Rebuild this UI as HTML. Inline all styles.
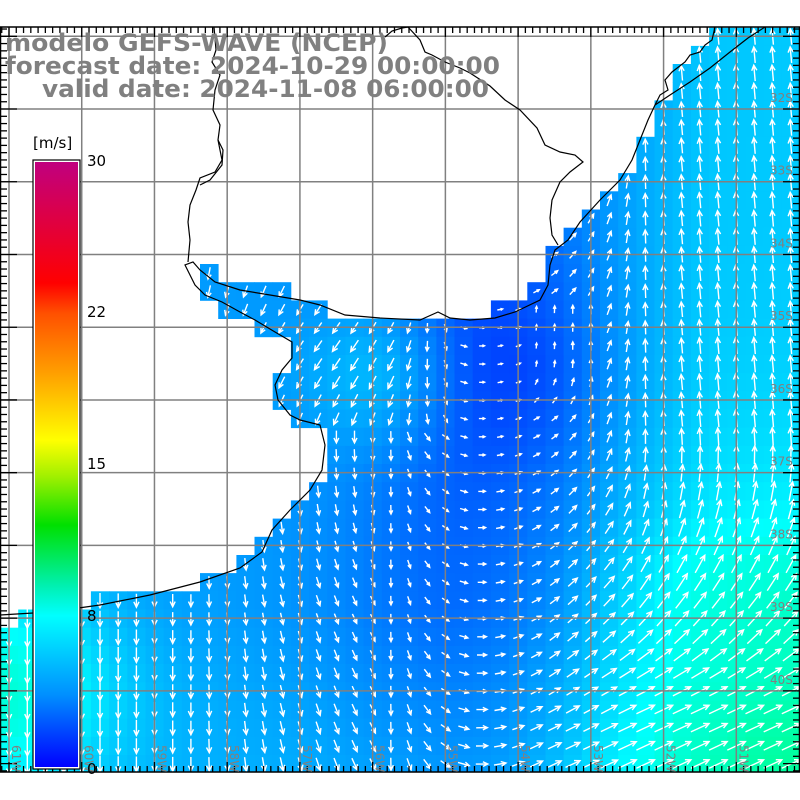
<!DOCTYPE html>
<html><head><meta charset="utf-8"><style>
html,body{margin:0;padding:0;background:#fff;width:800px;height:800px;overflow:hidden}
svg{display:block}
</style></head><body>
<svg id="s" width="800" height="800" xmlns="http://www.w3.org/2000/svg">
<defs>
<linearGradient id="cb" x1="0" y1="0" x2="0" y2="1">
<stop offset="0" stop-color="#c0007f"/>
<stop offset="0.1" stop-color="#e00040"/>
<stop offset="0.2" stop-color="#ff0000"/>
<stop offset="0.25" stop-color="#ff5000"/>
<stop offset="0.35" stop-color="#ffa000"/>
<stop offset="0.46" stop-color="#ffff00"/>
<stop offset="0.52" stop-color="#a0f000"/>
<stop offset="0.6" stop-color="#00e000"/>
<stop offset="0.7" stop-color="#00f0b0"/>
<stop offset="0.75" stop-color="#00ffff"/>
<stop offset="0.88" stop-color="#0090ff"/>
<stop offset="1" stop-color="#0000ff"/>
</linearGradient>
</defs>
<g id="cells"></g>
<g id="arrows" stroke="#fff" stroke-width="1.4" fill="none"></g>
<g id="grid" stroke="#808080" stroke-width="1.5"></g>
<g fill="none" stroke="#000" stroke-width="1.2">
<polyline points="0,615 50,612 100,605 150,595 200,582 240,568 262,552 272,530 290,510 310,490 322,470 325,445 320,425 300,420 290,415 278,400 275,385 282,370 292,358 292,342 275,332 255,320 240,312 222,302 205,295 195,285 190,275 185,265 193,262 200,270 215,282 240,290 270,295 300,300 320,305 345,315 380,318 420,320 438,312 450,318 470,320 495,318 515,312 540,300 548,285 550,265 555,250 568,240 580,222 600,200 620,180 632,160 640,140 648,120 655,105"/>
<polyline points="655,105 670,95 690,82 710,68 730,52 748,38 765,27"/>
<polyline points="655,105 660,95 668,90 665,80 672,72 685,62 690,55 700,52 705,45 712,40 715,27"/>
<polyline points="214,27 216,50 212,62 220,75 215,90 213,110 220,125 218,140 222,160 215,172 200,178 196,190 190,205 188,222 190,240 188,262"/>
<polyline points="218,140 223,150 222,165 210,180 200,185"/>
<polyline points="385,37 392,31 402,28 408,27 420,40 425,52 432,55 445,62 460,68 470,73 490,86 505,100 520,110 537,128 545,145 560,152 575,155 583,162 570,172 560,182 552,200 550,218 552,235 558,245"/>
</g>
<g id="ticks" stroke="#000" stroke-width="1.3"></g>
<rect x="0.5" y="27" width="799" height="745" fill="none" stroke="#000" stroke-width="1.5"/>
<g fill="#808080" font-family="'DejaVu Sans','Liberation Sans',sans-serif" font-size="12" id="labs"></g>
<rect x="33" y="160" width="47" height="609" fill="#fff" stroke="#000" stroke-width="1.2"/>
<rect x="35" y="162" width="43" height="605" fill="url(#cb)"/>
<g font-family="'DejaVu Sans','Liberation Sans',sans-serif" font-size="15" fill="#000">
<text x="33" y="148">[m/s]</text>
<text x="87" y="166">30</text>
<text x="87" y="317">22</text>
<text x="87" y="469">15</text>
<text x="87" y="621">8</text>
<text x="87" y="774">0</text>
</g>
<g font-family="'DejaVu Sans','Liberation Sans',sans-serif" font-weight="bold" font-size="24" fill="#808080">
<text x="5" y="51" textLength="383" lengthAdjust="spacingAndGlyphs">modelo GEFS-WAVE (NCEP)</text>
<text x="5" y="74" textLength="495" lengthAdjust="spacingAndGlyphs">forecast date: 2024-10-29 00:00:00</text>
<text x="42" y="97" textLength="447" lengthAdjust="spacingAndGlyphs">valid date: 2024-11-08 06:00:00</text>
</g>
</svg>
<script>
(function(){
var NS="http://www.w3.org/2000/svg";
function el(t,a,p){var e=document.createElementNS(NS,t);for(var k in a)e.setAttribute(k,a[k]);p.appendChild(e);return e;}
var poly=[[708,27],[800,27],[800,772],[0,772],[0,627],[18,627],[18,609],[100,609],[100,591],[200,591],[200,573],[237,573],[237,555],[255,555],[255,537],[273,537],[273,518],[291,518],[291,500],[310,500],[310,482],[327,482],[327,427],[291,427],[291,409],[273,409],[273,373],[291,373],[291,336],[255,336],[255,318],[218,318],[218,300],[200,300],[200,264],[218,264],[218,282],[291,282],[291,300],[327,300],[327,318],[490,318],[490,300],[527,300],[527,282],[547,282],[547,245],[565,245],[565,227],[583,227],[583,209],[600,209],[600,190],[618,190],[618,172],[636,172],[636,136],[655,136],[655,100],[672,100],[672,63],[690,63],[690,45],[708,45]];
function inside(x,y){var c=false;for(var i=0,j=poly.length-1;i<poly.length;j=i++){var xi=poly[i][0],yi=poly[i][1],xj=poly[j][0],yj=poly[j][1];if(((yi>y)!=(yj>y))&&(x<(xj-xi)*(y-yi)/(yj-yi)+xi))c=!c;}return c;}
function g(x,y,cx,cy,s){var dx=x-cx,dy=y-cy;return Math.exp(-(dx*dx+dy*dy)/(2*s*s));}
function cl(v){return Math.max(0,Math.min(1,v));}
function spd(x,y){
 var band=Math.exp(-Math.pow((x-470)/130,2))*(1-0.5*cl((y-600)/170));
 var s=4.9-1.9*band-1.3*g(x,y,505,370,70);
 s+=1.4*cl((x-560)/150)*(1-cl((y-560)/120));
 s+=5.2*g(x,y,830,800,180);
 s+=0.8*cl((x-560)/120)*cl((y-500)/100);
 s+=3.8*g(x,y,0,690,80);
 s+=2.2*g(x,y,390,375,55);
 s+=0.5*cl((y-620)/150)*cl((x-100)/200)*(1-cl((x-400)/100));
 s+=0.4*(1-cl((x-150)/200))*cl((y-600)/100);
 return s;}
function col(s){var gg,b;if(s<=8){var t=Math.max(0,s/8);gg=Math.round(255*t);b=255;}else{var t=Math.min(1,(s-8)/7);gg=255;b=Math.round(255*(1-t));}return "rgb(0,"+gg+","+b+")";}
function lerp(a,b,t){return a+(b-a)*t;}
function ang(x,y){
 var tR=-95+70*cl((y-430)/280);
 var th;
 if(x<=390)th=90;
 else if(x<=480)th=lerp(90,0,(x-390)/90);
 else if(x<=560)th=lerp(0,-40,(x-480)/80);
 else if(x<=650)th=lerp(-40,tR,(x-560)/90);
 else th=tR;
 if(x<390&&y>440)th=lerp(90,60,cl((x-200)/190)*cl((y-440)/150));
 if(x>480&&y>640){var wb=cl((y-640)/100);th=lerp(th,Math.max(th,-25),wb);}
 var wt=g(x,y,330,340,90);if(x<450&&y<420)th=lerp(th,125,wt);
 if(x>520&&x<600&&y<420&&y>300){th=lerp(th,-100,cl((420-y)/60)*0.8);}
 return th*Math.PI/180;}
var cells=document.getElementById("cells"),arr=document.getElementById("arrows");
var cs=800/44;
for(var i=0;i<44;i++){for(var j=0;j<42;j++){var x0=i*cs,y0=9.5+j*cs;var cx=x0+cs/2,cy=y0+cs/2;if(cy<27||cy>772)continue;if(!inside(cx,cy))continue;
var s=spd(cx,cy);el("rect",{x:x0.toFixed(1),y:Math.max(27,y0).toFixed(1),width:(cs+0.4).toFixed(1),height:(Math.min(772,y0+cs)-Math.max(27,y0)+0.4).toFixed(1),fill:col(s)},cells);
var a0=ang(cx,cy);var vx=Math.cos(a0),vy=Math.sin(a0);
var L=Math.max(3,Math.min(20,2.7*s-1));
var sx=cx-vx*L/2,sy=cy-vy*L/2,ex=cx+vx*L/2,ey=cy+vy*L/2;
var h=Math.min(6,L*0.45),a=0.45;
var bx=-vx,by=-vy;
var h1x=ex+h*(bx*Math.cos(a)-by*Math.sin(a)),h1y=ey+h*(bx*Math.sin(a)+by*Math.cos(a));
var h2x=ex+h*(bx*Math.cos(-a)-by*Math.sin(-a)),h2y=ey+h*(bx*Math.sin(-a)+by*Math.cos(-a));
el("path",{d:"M"+sx.toFixed(1)+","+sy.toFixed(1)+"L"+ex.toFixed(1)+","+ey.toFixed(1)+"M"+h1x.toFixed(1)+","+h1y.toFixed(1)+"L"+ex.toFixed(1)+","+ey.toFixed(1)+"L"+h2x.toFixed(1)+","+h2y.toFixed(1)},arr);
}}
var grid=document.getElementById("grid"),tk=document.getElementById("ticks"),labs=document.getElementById("labs");
var sp=72.73;
for(var k=0;k<11;k++){var x=9+k*sp;if(x>0&&x<800)el("line",{x1:x,y1:27,x2:x,y2:772},grid);}
for(var k=0;k<10;k++){var y=36.3+k*sp;if(y>27&&y<772)el("line",{x1:0,y1:y,x2:800,y2:y},grid);}
for(var m=-2;m<115;m++){var x=9+m*sp/10;if(x<1||x>799)continue;var L=(m%10==0)?10:6;el("line",{x1:x,y1:27,x2:x,y2:27+L},tk);el("line",{x1:x,y1:772,x2:x,y2:772-L},tk);}
for(var m=-2;m<105;m++){var y=36.3+m*sp/10;if(y<28||y>771)continue;var L=(m%10==0)?17:7;el("line",{x1:0,y1:y,x2:L,y2:y},tk);el("line",{x1:800,y1:y,x2:800-L,y2:y},tk);}
var lat=["32S","33S","34S","35S","36S","37S","38S","39S","40S","41S"];
for(var k=0;k<9;k++){var y=109+k*sp-7;var t=el("text",{x:770,y:y},labs);t.textContent=lat[k];}
var lon=["61W","60W","59W","58W","57W","56W","55W","54W","53W","52W","51W"];
for(var k=0;k<11;k++){var x=9+k*sp+7;var t=el("text",{x:0,y:0,transform:"translate("+(x-4)+",745) rotate(90)"},labs);t.textContent=lon[k];}
})();
</script>
</body></html>
